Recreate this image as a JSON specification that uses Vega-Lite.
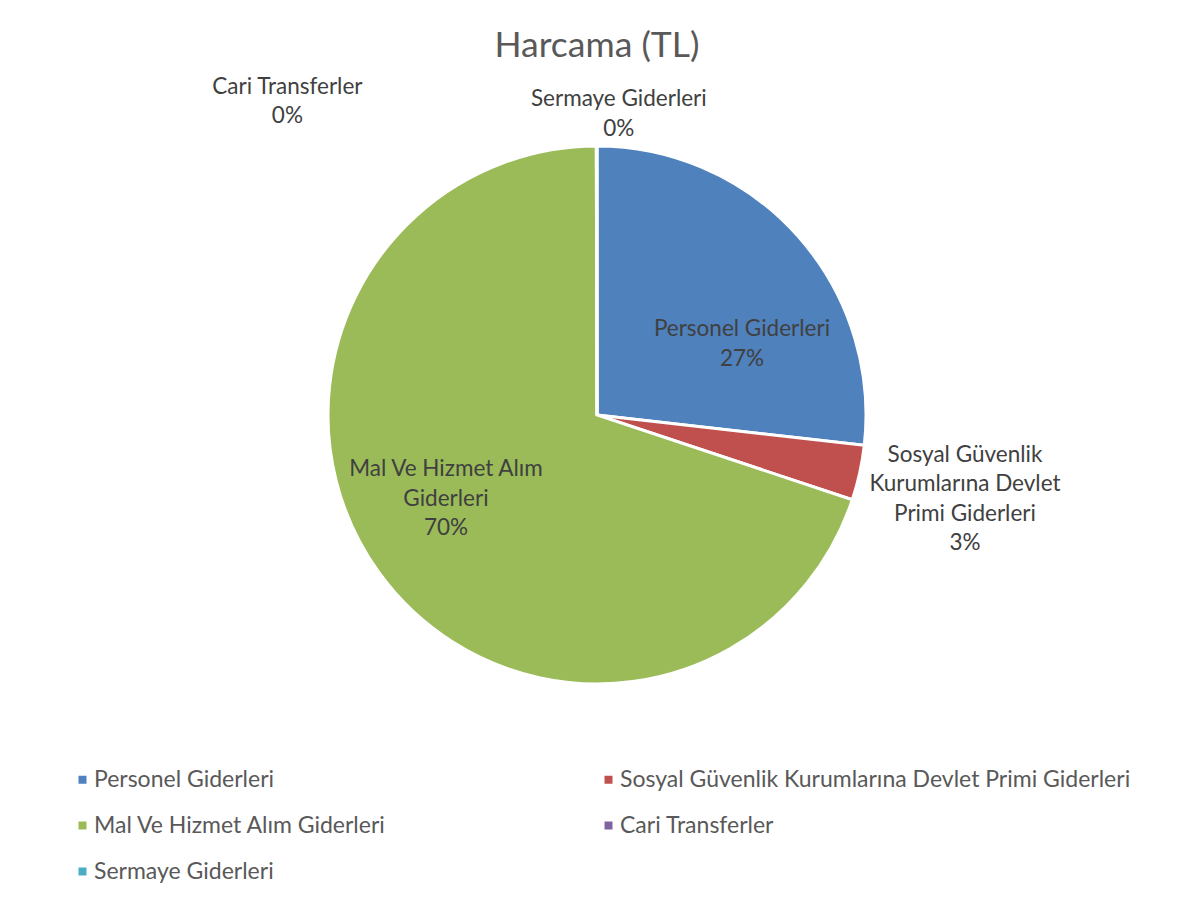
{
  "$schema": "https://vega.github.io/schema/vega-lite/v6.json",
  "autosize": {"type": "none"},
  "width": 538,
  "height": 538,
  "padding": {"left": 328, "top": 146, "right": 321, "bottom": 223},
  "background": "white",
  "config": {"view": {"stroke": null}},
  "title": {
    "text": "Harcama (TL)",
    "font": "Lato",
    "fontSize": 35.5,
    "fontWeight": "normal",
    "color": "#595959",
    "baseline": "alphabetic",
    "offset": -17,
    "anchor": "middle"
  },
  "data": {
    "values": [
      {"kalem": "Personel Giderleri", "sira": 1, "tutar": 26.8, "etiket": "Personel Giderleri\n27%"},
      {"kalem": "Sosyal Güvenlik Kurumlarına Devlet Primi Giderleri", "sira": 2, "tutar": 3.3, "etiket": "Sosyal Güvenlik\nKurumlarına Devlet\nPrimi Giderleri\n3%"},
      {"kalem": "Mal Ve Hizmet Alım Giderleri", "sira": 3, "tutar": 69.86, "etiket": "Mal Ve Hizmet Alım\nGiderleri\n70%"},
      {"kalem": "Cari Transferler", "sira": 4, "tutar": 0.02, "etiket": "Cari Transferler\n0%"},
      {"kalem": "Sermaye Giderleri", "sira": 5, "tutar": 0.02, "etiket": "Sermaye Giderleri\n0%"}
    ]
  },
  "encoding": {
    "theta": {"field": "tutar", "type": "quantitative", "stack": true},
    "order": {"field": "sira", "type": "quantitative"}
  },
  "layer": [
    {
      "mark": {"type": "arc", "stroke": "white", "strokeWidth": 3},
      "encoding": {
        "color": {
          "field": "kalem",
          "type": "nominal",
          "sort": null,
          "scale": {
            "domain": ["Personel Giderleri", "Sosyal Güvenlik Kurumlarına Devlet Primi Giderleri", "Mal Ve Hizmet Alım Giderleri", "Cari Transferler", "Sermaye Giderleri"],
            "range": ["#4F81BD", "#C0504D", "#9BBB59", "#8064A2", "#4BACC6"]
          },
          "legend": {
            "title": null,
            "orient": "none",
            "direction": "horizontal",
            "legendX": -257,
            "legendY": 622,
            "columns": 2,
            "columnPadding": 210,
            "rowPadding": 22,
            "padding": 0,
            "symbolType": "square",
            "symbolSize": 64,
            "symbolStrokeWidth": 0,
            "labelFont": "Lato",
            "labelFontSize": 23,
            "labelColor": "#595959",
            "labelOffset": 0,
            "labelLimit": 700
          }
        }
      }
    },
    {
      "mark": {"type": "text", "radius": 161.5, "dx": 24.5, "dy": 22, "lineBreak": "\n", "lineHeight": 29.5, "font": "Lato", "fontSize": 22.5, "fill": "#404040"},
      "encoding": {"text": {"condition": {"test": "datum.kalem === 'Personel Giderleri'", "field": "etiket"}, "value": ""}}
    },
    {
      "mark": {"type": "text", "radius": 172, "dx": -11.7, "dy": -46.4, "lineBreak": "\n", "lineHeight": 29.5, "font": "Lato", "fontSize": 22.5, "fill": "#404040"},
      "encoding": {"text": {"condition": {"test": "datum.kalem === 'Mal Ve Hizmet Alım Giderleri'", "field": "etiket"}, "value": ""}}
    },
    {
      "mark": {"type": "text", "radius": 270, "dx": 104.3, "dy": -18.1, "lineBreak": "\n", "lineHeight": 29.5, "font": "Lato", "fontSize": 22.5, "fill": "#404040"},
      "encoding": {"text": {"condition": {"test": "datum.sira === 2", "field": "etiket"}, "value": ""}}
    },
    {
      "mark": {"type": "text", "radius": 315, "dx": -309, "dy": -13.5, "lineBreak": "\n", "lineHeight": 29.5, "font": "Lato", "fontSize": 22.5, "fill": "#404040"},
      "encoding": {"text": {"condition": {"test": "datum.kalem === 'Cari Transferler'", "field": "etiket"}, "value": ""}}
    },
    {
      "mark": {"type": "text", "radius": 303, "dx": 22, "dy": -13, "lineBreak": "\n", "lineHeight": 29.5, "font": "Lato", "fontSize": 22.5, "fill": "#404040"},
      "encoding": {"text": {"condition": {"test": "datum.kalem === 'Sermaye Giderleri'", "field": "etiket"}, "value": ""}}
    }
  ]
}
